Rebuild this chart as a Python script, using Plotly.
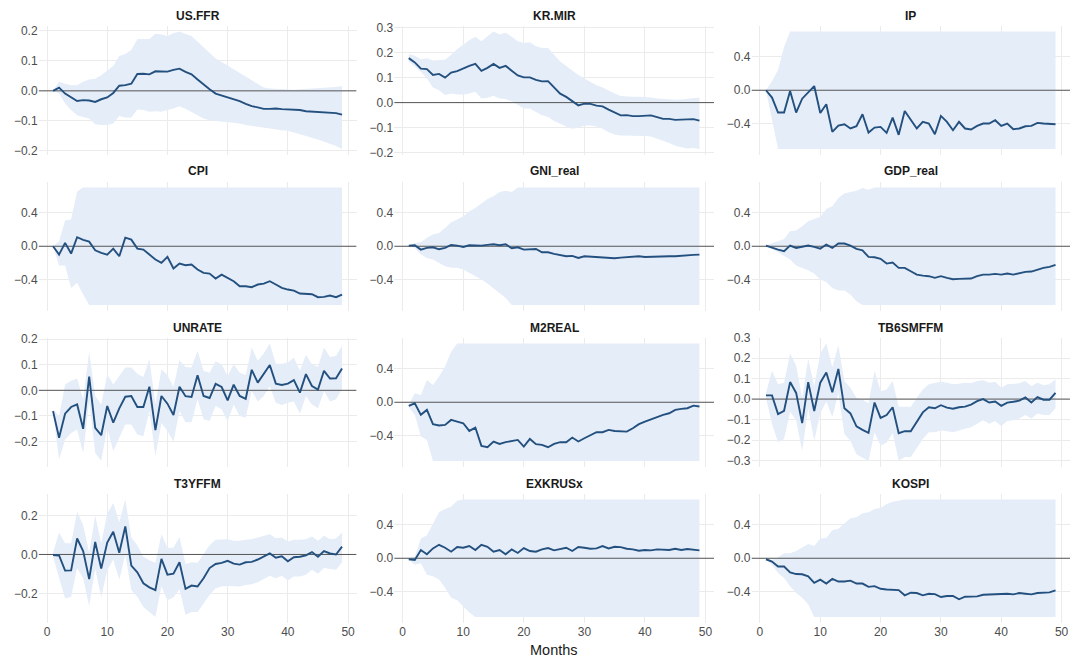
import plotly.graph_objects as go

months = list(range(1, 50))

titles = ["US.FFR", "KR.MIR", "IP", "CPI", "GNI_real", "GDP_real",
          "UNRATE", "M2REAL", "TB6SMFFM", "T3YFFM", "EXKRUSx", "KOSPI"]

us_ffr = [0.0, 0.011, -0.009, -0.023, -0.034, -0.031, -0.032, -0.037, -0.028, -0.022, -0.007, 0.017, 0.019, 0.024, 0.056, 0.057, 0.055, 0.065, 0.065, 0.064, 0.070, 0.074, 0.063, 0.055, 0.038, 0.021, 0.005, -0.009, -0.015, -0.022, -0.026, -0.034, -0.043, -0.051, -0.055, -0.060, -0.060, -0.059, -0.061, -0.062, -0.062, -0.064, -0.068, -0.069, -0.069, -0.072, -0.071, -0.074, -0.079]
us_ffr_hi = [0.0, 0.030, 0.024, 0.019, 0.019, 0.030, 0.038, 0.040, 0.052, 0.067, 0.083, 0.116, 0.123, 0.136, 0.172, 0.173, 0.173, 0.190, 0.188, 0.183, 0.192, 0.198, 0.189, 0.183, 0.164, 0.145, 0.126, 0.108, 0.096, 0.084, 0.072, 0.060, 0.047, 0.036, 0.025, 0.011, 0.008, 0.007, 0.004, 0.004, 0.004, 0.005, 0.006, 0.007, 0.010, 0.011, 0.011, 0.013, 0.016]
us_ffr_lo = [0.0, -0.009, -0.042, -0.064, -0.081, -0.087, -0.092, -0.111, -0.114, -0.114, -0.109, -0.084, -0.089, -0.089, -0.062, -0.064, -0.070, -0.068, -0.070, -0.064, -0.059, -0.051, -0.060, -0.070, -0.081, -0.092, -0.098, -0.100, -0.101, -0.103, -0.107, -0.109, -0.114, -0.118, -0.120, -0.123, -0.127, -0.128, -0.131, -0.133, -0.140, -0.144, -0.150, -0.156, -0.162, -0.170, -0.176, -0.184, -0.194]

kr_mir = [0.178, 0.161, 0.136, 0.134, 0.111, 0.115, 0.100, 0.120, 0.126, 0.138, 0.147, 0.155, 0.127, 0.139, 0.155, 0.139, 0.147, 0.128, 0.109, 0.101, 0.101, 0.091, 0.085, 0.086, 0.061, 0.036, 0.023, 0.007, -0.011, -0.004, -0.005, -0.012, -0.015, -0.028, -0.038, -0.051, -0.050, -0.054, -0.054, -0.054, -0.051, -0.058, -0.065, -0.065, -0.069, -0.068, -0.068, -0.066, -0.072]
kr_mir_hi = [0.195, 0.188, 0.174, 0.178, 0.169, 0.172, 0.172, 0.192, 0.215, 0.232, 0.250, 0.264, 0.246, 0.266, 0.285, 0.273, 0.280, 0.264, 0.246, 0.239, 0.242, 0.226, 0.219, 0.219, 0.192, 0.165, 0.147, 0.128, 0.111, 0.097, 0.084, 0.070, 0.061, 0.047, 0.036, 0.026, 0.023, 0.023, 0.023, 0.023, 0.020, 0.016, 0.014, 0.012, 0.011, 0.012, 0.015, 0.019, 0.020]
kr_mir_lo = [0.165, 0.145, 0.124, 0.097, 0.061, 0.050, 0.030, 0.036, 0.032, 0.032, 0.036, 0.043, 0.016, 0.019, 0.027, 0.016, 0.014, 0.005, -0.011, -0.024, -0.024, -0.038, -0.051, -0.058, -0.074, -0.085, -0.096, -0.105, -0.101, -0.092, -0.092, -0.096, -0.105, -0.119, -0.128, -0.132, -0.132, -0.134, -0.134, -0.134, -0.136, -0.143, -0.153, -0.162, -0.173, -0.180, -0.184, -0.182, -0.186]

ip = [0.0, -0.087, -0.265, -0.265, -0.010, -0.265, -0.100, -0.030, 0.050, -0.270, -0.166, -0.495, -0.420, -0.404, -0.455, -0.428, -0.285, -0.503, -0.444, -0.436, -0.507, -0.325, -0.530, -0.246, -0.356, -0.455, -0.376, -0.396, -0.523, -0.305, -0.376, -0.475, -0.376, -0.455, -0.467, -0.424, -0.396, -0.396, -0.356, -0.424, -0.396, -0.463, -0.455, -0.428, -0.424, -0.388, -0.396, -0.396, -0.404]
ip_hi = [0.0, 0.107, 0.240, 0.515] + [0.7] * 45
ip_lo = [0.0, -0.35] + [-0.7] * 47

cpi = [0.0, -0.099, 0.040, -0.087, 0.107, 0.075, 0.055, -0.048, -0.079, -0.099, -0.028, -0.119, 0.103, 0.079, -0.028, -0.040, -0.099, -0.158, -0.198, -0.127, -0.265, -0.206, -0.226, -0.218, -0.277, -0.317, -0.325, -0.384, -0.337, -0.376, -0.416, -0.475, -0.475, -0.487, -0.455, -0.444, -0.416, -0.455, -0.495, -0.515, -0.527, -0.562, -0.566, -0.570, -0.606, -0.602, -0.586, -0.606, -0.574]
cpi_hi = [0.0, 0.06, 0.305, 0.317, 0.65] + [0.7] * 44
cpi_lo = [0.0, -0.23, -0.23, -0.495, -0.435, -0.574] + [-0.7] * 43

gni_real = [0.008, 0.012, -0.040, -0.020, -0.012, -0.036, -0.020, 0.016, 0.008, -0.008, 0.012, 0.008, 0.008, 0.016, 0.024, 0.012, 0.024, -0.024, -0.012, -0.040, -0.040, -0.032, -0.071, -0.071, -0.091, -0.107, -0.119, -0.115, -0.139, -0.119, -0.123, -0.131, -0.135, -0.139, -0.143, -0.135, -0.127, -0.127, -0.119, -0.127, -0.123, -0.127, -0.123, -0.119, -0.119, -0.111, -0.107, -0.103, -0.099]
gni_real_hi = [0.008, 0.04, 0.048, 0.10, 0.139, 0.158, 0.218, 0.285, 0.317, 0.356, 0.416, 0.455, 0.507, 0.562, 0.594, 0.645, 0.661, 0.645] + [0.7] * 31
gni_real_lo = [0.008, -0.02, -0.099, -0.139, -0.158, -0.198, -0.238, -0.257, -0.257, -0.277, -0.317, -0.356, -0.396, -0.444, -0.495, -0.554, -0.614] + [-0.7] * 32

gdp_real = [0.008, -0.020, -0.040, -0.059, 0.008, -0.020, -0.008, 0.008, -0.008, -0.028, 0.020, -0.020, 0.032, 0.032, 0.008, -0.032, -0.048, -0.127, -0.131, -0.150, -0.206, -0.194, -0.257, -0.257, -0.297, -0.337, -0.349, -0.356, -0.376, -0.356, -0.376, -0.392, -0.388, -0.388, -0.384, -0.356, -0.337, -0.337, -0.329, -0.337, -0.325, -0.337, -0.317, -0.305, -0.301, -0.277, -0.257, -0.246, -0.222]
gdp_real_hi = [0.008, 0.04, 0.06, 0.087, 0.178, 0.186, 0.238, 0.297, 0.325, 0.349, 0.444, 0.475, 0.574, 0.626, 0.645, 0.661, 0.693, 0.673] + [0.7] * 31
gdp_real_lo = [0.008, -0.032, -0.071, -0.111, -0.158, -0.23, -0.257, -0.285, -0.325, -0.396, -0.424, -0.495, -0.527, -0.527, -0.574, -0.653] + [-0.7] * 33

unrate = [-0.081, -0.185, -0.091, -0.065, -0.055, -0.150, 0.053, -0.146, -0.175, -0.061, -0.126, -0.070, -0.025, -0.022, -0.065, -0.065, 0.014, -0.155, -0.022, -0.052, -0.096, 0.014, -0.023, -0.026, 0.059, -0.022, -0.030, 0.025, 0.013, -0.039, 0.022, -0.022, -0.033, 0.080, 0.030, 0.063, 0.099, 0.026, 0.021, 0.026, 0.040, -0.009, 0.063, 0.017, 0.003, 0.076, 0.046, 0.047, 0.085]
unrate_hi = [-0.075, -0.10, 0.023, 0.037, 0.046, -0.035, 0.150, -0.022, -0.055, 0.063, 0.023, 0.056, 0.089, 0.089, 0.065, 0.052, 0.121, -0.055, 0.082, 0.060, 0.013, 0.117, 0.091, 0.089, 0.154, 0.076, 0.069, 0.112, 0.102, 0.056, 0.102, 0.069, 0.060, 0.167, 0.115, 0.144, 0.183, 0.104, 0.104, 0.108, 0.128, 0.076, 0.138, 0.102, 0.091, 0.167, 0.130, 0.134, 0.174]
unrate_lo = [-0.087, -0.27, -0.192, -0.166, -0.153, -0.244, -0.042, -0.244, -0.276, -0.146, -0.237, -0.185, -0.133, -0.133, -0.172, -0.179, -0.081, -0.257, -0.127, -0.159, -0.200, -0.081, -0.124, -0.124, -0.035, -0.113, -0.120, -0.061, -0.074, -0.120, -0.055, -0.100, -0.107, -0.003, -0.044, -0.022, 0.017, -0.048, -0.057, -0.048, -0.044, -0.091, -0.022, -0.055, -0.070, -0.003, -0.044, -0.035, 0.004]

m2real = [-0.044, -0.012, -0.150, -0.091, -0.261, -0.277, -0.269, -0.210, -0.230, -0.250, -0.341, -0.301, -0.519, -0.535, -0.467, -0.495, -0.475, -0.459, -0.448, -0.527, -0.436, -0.499, -0.507, -0.535, -0.495, -0.475, -0.475, -0.420, -0.467, -0.428, -0.396, -0.356, -0.356, -0.329, -0.341, -0.341, -0.349, -0.309, -0.261, -0.230, -0.202, -0.170, -0.150, -0.131, -0.091, -0.079, -0.071, -0.040, -0.051]
m2real_hi = [-0.03, 0.107, 0.087, 0.265, 0.206, 0.305, 0.424, 0.602] + [0.7] * 41
m2real_lo = [-0.063, -0.15, -0.408, -0.448] + [-0.7] * 45

tb6smffm = [0.018, 0.018, -0.073, -0.057, 0.083, 0.030, -0.117, 0.083, -0.058, 0.080, 0.130, 0.033, 0.147, -0.045, -0.070, -0.133, -0.150, -0.165, -0.017, -0.092, -0.078, -0.040, -0.167, -0.157, -0.157, -0.112, -0.065, -0.040, -0.045, -0.030, -0.042, -0.047, -0.040, -0.037, -0.027, -0.010, 0.000, -0.017, -0.012, -0.033, -0.017, -0.013, -0.008, 0.008, -0.017, 0.010, -0.003, -0.003, 0.030]
tb6smffm_hi = [0.030, 0.138, 0.072, 0.080, 0.222, 0.163, 0.005, 0.197, 0.063, 0.222, 0.272, 0.155, 0.263, 0.088, 0.055, 0.005, -0.003, -0.020, 0.138, 0.038, 0.047, 0.088, -0.037, -0.037, -0.037, 0.005, 0.047, 0.072, 0.077, 0.085, 0.080, 0.072, 0.075, 0.080, 0.077, 0.088, 0.092, 0.080, 0.085, 0.055, 0.072, 0.075, 0.077, 0.088, 0.063, 0.080, 0.067, 0.072, 0.097]
tb6smffm_lo = [0.005, -0.120, -0.212, -0.195, -0.062, -0.103, -0.253, -0.045, -0.203, -0.070, -0.012, -0.087, 0.030, -0.170, -0.203, -0.270, -0.287, -0.303, -0.162, -0.228, -0.212, -0.167, -0.300, -0.283, -0.283, -0.237, -0.195, -0.162, -0.162, -0.153, -0.157, -0.162, -0.153, -0.145, -0.137, -0.120, -0.103, -0.120, -0.107, -0.133, -0.107, -0.103, -0.095, -0.078, -0.095, -0.070, -0.078, -0.078, -0.045]

t3yffm = [-0.003, -0.005, -0.083, -0.082, 0.082, 0.017, -0.127, 0.064, -0.073, 0.061, 0.117, 0.009, 0.144, -0.057, -0.092, -0.148, -0.169, -0.183, -0.023, -0.104, -0.099, -0.040, -0.177, -0.160, -0.165, -0.122, -0.070, -0.049, -0.043, -0.033, -0.047, -0.052, -0.040, -0.038, -0.026, -0.009, 0.005, -0.017, -0.009, -0.035, -0.014, -0.012, -0.005, 0.012, -0.012, 0.017, 0.005, 0.000, 0.040]
t3yffm_hi = [0.009, 0.113, 0.057, 0.057, 0.220, 0.151, 0.009, 0.200, 0.057, 0.209, 0.264, 0.165, 0.283, 0.087, 0.047, -0.012, -0.030, -0.043, 0.104, 0.035, 0.035, 0.090, -0.049, -0.040, -0.043, 0.000, 0.047, 0.075, 0.078, 0.078, 0.070, 0.070, 0.075, 0.078, 0.087, 0.096, 0.104, 0.083, 0.087, 0.066, 0.075, 0.075, 0.078, 0.092, 0.070, 0.096, 0.078, 0.082, 0.113]
t3yffm_lo = [-0.012, -0.113, -0.226, -0.217, -0.070, -0.122, -0.266, -0.075, -0.220, -0.082, -0.026, -0.130, 0.000, -0.183, -0.217, -0.270, -0.296, -0.322, -0.165, -0.235, -0.220, -0.179, -0.310, -0.296, -0.296, -0.252, -0.209, -0.174, -0.165, -0.162, -0.162, -0.165, -0.157, -0.153, -0.143, -0.127, -0.110, -0.122, -0.110, -0.134, -0.113, -0.113, -0.104, -0.078, -0.099, -0.070, -0.075, -0.078, -0.040]

exkrusx = [-0.012, -0.020, 0.098, 0.047, 0.117, 0.160, 0.125, 0.078, 0.133, 0.125, 0.145, 0.098, 0.160, 0.137, 0.078, 0.098, 0.047, 0.105, 0.063, 0.121, 0.086, 0.078, 0.105, 0.121, 0.094, 0.105, 0.125, 0.086, 0.133, 0.125, 0.113, 0.117, 0.145, 0.117, 0.137, 0.133, 0.113, 0.105, 0.090, 0.098, 0.094, 0.105, 0.098, 0.098, 0.113, 0.098, 0.109, 0.102, 0.094]
exkrusx_hi = [0.0, 0.02, 0.234, 0.273, 0.41, 0.547, 0.586, 0.613, 0.684] + [0.7] * 40
exkrusx_lo = [-0.02, -0.078, -0.059, -0.195, -0.215, -0.254, -0.352, -0.469, -0.5, -0.574, -0.645] + [-0.7] * 38

kospi = [-0.012, -0.039, -0.098, -0.098, -0.168, -0.188, -0.191, -0.215, -0.293, -0.254, -0.301, -0.246, -0.277, -0.277, -0.266, -0.301, -0.301, -0.340, -0.332, -0.363, -0.371, -0.379, -0.379, -0.441, -0.410, -0.414, -0.441, -0.422, -0.426, -0.461, -0.449, -0.449, -0.488, -0.457, -0.457, -0.453, -0.434, -0.430, -0.430, -0.426, -0.422, -0.430, -0.414, -0.422, -0.430, -0.414, -0.414, -0.406, -0.383]
kospi_hi = [0.0, -0.02, 0.012, 0.059, 0.059, 0.086, 0.129, 0.168, 0.145, 0.234, 0.242, 0.332, 0.352, 0.41, 0.477, 0.488, 0.535, 0.547, 0.586, 0.598, 0.645, 0.672, 0.69] + [0.7] * 26
kospi_lo = [-0.012, -0.078, -0.176, -0.234, -0.332, -0.41, -0.469, -0.547] + [-0.7] * 41

x_ticks = [0, 10, 20, 30, 40, 50]
y_tick_step = [0.1, 0.1, 0.4, 0.4, 0.4, 0.4, 0.1, 0.4, 0.1, 0.2, 0.4, 0.4]

series = [
    (us_ffr, us_ffr_lo, us_ffr_hi),
    (kr_mir, kr_mir_lo, kr_mir_hi),
    (ip, ip_lo, ip_hi),
    (cpi, cpi_lo, cpi_hi),
    (gni_real, gni_real_lo, gni_real_hi),
    (gdp_real, gdp_real_lo, gdp_real_hi),
    (unrate, unrate_lo, unrate_hi),
    (m2real, m2real_lo, m2real_hi),
    (tb6smffm, tb6smffm_lo, tb6smffm_hi),
    (t3yffm, t3yffm_lo, t3yffm_hi),
    (exkrusx, exkrusx_lo, exkrusx_hi),
    (kospi, kospi_lo, kospi_hi),
]

W, H = 1080, 664
col_px = [(38.6, 356.5), (394.2, 714.0), (751.5, 1070.0)]
row_px = [(25.5, 155.0), (181.5, 311.0), (337.5, 467.0), (493.5, 623.0)]

LINE = "#23507e"
BAND = "#e5edf9"
GRID = "#ebebeb"
FONT = "Liberation Sans, Arial, Helvetica, sans-serif"

xmin, xmax = min(months), max(months)
xpad = 0.05 * (xmax - xmin)
xr = [xmin - xpad, xmax + xpad]

fig = go.Figure()
layout = {}
annotations = []

for i, (title, (line, lo, hi)) in enumerate(zip(titles, series)):
    r, c = divmod(i, 3)
    n = "" if i == 0 else str(i + 1)
    xa, ya = "x" + n, "y" + n
    x0, x1 = col_px[c]
    y0, y1 = row_px[r]
    dom_x = [x0 / W, x1 / W]
    dom_y = [1 - y1 / H, 1 - y0 / H]

    vmin = min(min(lo), min(line))
    vmax = max(max(hi), max(line))
    pad = 0.05 * (vmax - vmin)
    yr = [vmin - pad, vmax + pad]

    fig.add_trace(go.Scatter(
        x=months + months[::-1], y=hi + lo[::-1], fill="toself",
        fillcolor=BAND, line=dict(width=0), mode="lines",
        hoverinfo="skip", showlegend=False, xaxis=xa, yaxis=ya))
    fig.add_trace(go.Scatter(
        x=xr, y=[0, 0], mode="lines", line=dict(color="#555555", width=1),
        hoverinfo="skip", showlegend=False, xaxis=xa, yaxis=ya))
    fig.add_trace(go.Scatter(
        x=months, y=line, mode="lines", line=dict(color=LINE, width=1.9),
        showlegend=False, name=title, xaxis=xa, yaxis=ya))

    layout["xaxis" + n] = dict(
        domain=dom_x, anchor=ya, range=xr, tickvals=x_ticks,
        showticklabels=(r == 3), showgrid=True, gridcolor=GRID, gridwidth=1.1,
        zeroline=False, showline=False, ticks="", automargin=False,
        tickfont=dict(size=12, color="#4d4d4d", family=FONT))
    layout["yaxis" + n] = dict(
        domain=dom_y, anchor=xa, range=yr, tick0=0, dtick=y_tick_step[i],
        tickformat=".1f", showgrid=True, gridcolor=GRID, gridwidth=1.1,
        zeroline=False, showline=False, ticks="", automargin=False,
        tickfont=dict(size=12, color="#4d4d4d", family=FONT))

    annotations.append(dict(
        text=title, xref="paper", yref="paper",
        x=(dom_x[0] + dom_x[1]) / 2, y=dom_y[1], yshift=10,
        xanchor="center", yanchor="middle", showarrow=False,
        font=dict(size=12, color="#1a1a1a", family=FONT, weight="bold")))

annotations.append(dict(
    text="Months", xref="paper", yref="paper",
    x=(col_px[1][0] + col_px[1][1]) / 2 / W, y=1 - 650 / H,
    xanchor="center", yanchor="middle", showarrow=False,
    font=dict(size=14.5, color="#1a1a1a", family=FONT)))

fig.update_layout(
    width=W, height=H, margin=dict(l=0, r=0, t=0, b=0, autoexpand=False),
    paper_bgcolor="white", plot_bgcolor="white",
    annotations=annotations, font=dict(family=FONT), **layout)

fig.write_html(
    "out.html",
    config={"displayModeBar": False},
    post_script="document.body.style.margin='0';document.body.style.padding='0';")
